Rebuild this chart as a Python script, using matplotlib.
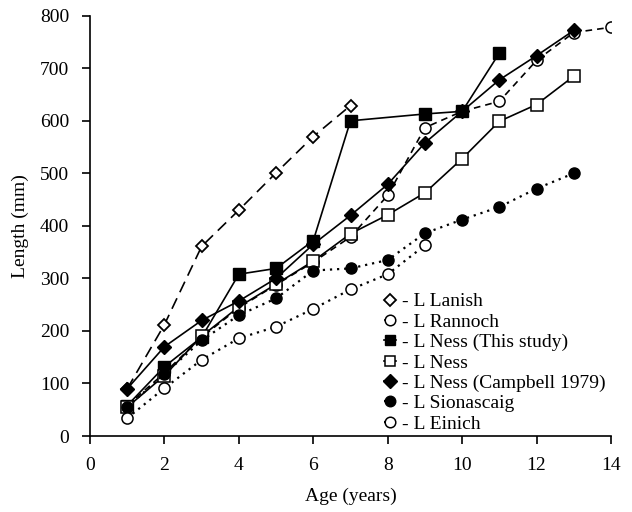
import matplotlib.pyplot as plt

plt.rcParams['font.family'] = ['Liberation Serif', 'DejaVu Serif']

# data (age in years, length in mm)
lanish_age = [1, 2, 3, 4, 5, 6, 7]
lanish_len = [90, 212, 361, 430, 501, 570, 629]

rannoch_age = [1, 2, 3, 4, 5, 6, 7, 8, 9, 10, 11, 12, 13, 14]
rannoch_len = [58, 120, 188, 244, 288, 331, 379, 458, 587, 618, 637, 715, 768, 778]

ness_this_age = [1, 2, 3, 4, 5, 6, 7, 9, 10, 11]
ness_this_len = [58, 132, 188, 308, 319, 372, 600, 613, 618, 729]

ness_age = [1, 2, 3, 4, 5, 6, 7, 8, 9, 10, 11, 12, 13]
ness_len = [55, 115, 190, 246, 289, 333, 385, 421, 463, 528, 599, 631, 685]

campbell_age = [1, 2, 3, 4, 5, 6, 7, 8, 9, 10, 11, 12, 13]
campbell_len = [90, 170, 220, 257, 300, 365, 420, 479, 558, 618, 678, 724, 772]

siona_age = [1, 2, 3, 4, 5, 6, 7, 8, 9, 10, 11, 12, 13]
siona_len = [55, 118, 182, 230, 262, 315, 319, 335, 386, 412, 436, 471, 500]

einich_age = [1, 2, 3, 4, 5, 6, 7, 8, 9]
einich_len = [34, 91, 145, 186, 208, 242, 279, 308, 363]

fig = plt.figure(figsize=(6.32, 5.12), dpi=100)
ax = fig.add_axes([0.1424, 0.1484, 0.8244, 0.8209])

lw = 1.2
ax.plot(lanish_age, lanish_len, color='black', lw=lw, dashes=(7, 4),
        marker='D', ms=6, mfc='white', mec='black', mew=1.3, label='- L Lanish')
ax.plot(rannoch_age, rannoch_len, color='black', lw=lw, dashes=(4, 3),
        marker='o', ms=8, mfc='white', mec='black', mew=1.1, label='- L Rannoch')
ax.plot(ness_this_age, ness_this_len, color='black', lw=lw, ls='-',
        marker='s', ms=8, mfc='black', mec='black', label='- L Ness (This study)')
ax.plot(ness_age, ness_len, color='black', lw=lw, ls='-',
        marker='s', ms=8, mfc='white', mec='black', mew=1.1, label='- L Ness')
ax.plot(campbell_age, campbell_len, color='black', lw=lw, ls='-',
        marker='D', ms=7, mfc='black', mec='black', label='- L Ness (Campbell 1979)')
ax.plot(siona_age, siona_len, color='black', lw=1.6, ls=(0, (1, 2.2)),
        marker='o', ms=8, mfc='black', mec='black', label='- L Sionascaig')
ax.plot(einich_age, einich_len, color='black', lw=1.6, ls=(0, (1, 2.2)),
        marker='o', ms=8, mfc='white', mec='black', mew=1.1, label='- L Einich')

ax.set_xlim(0, 14)
ax.set_ylim(0, 800)
ax.set_xticks(range(0, 15, 2))
ax.set_yticks(range(0, 801, 100))
ax.spines['top'].set_visible(False)
ax.spines['right'].set_visible(False)
ax.spines['left'].set_linewidth(1.2)
ax.spines['bottom'].set_linewidth(1.2)
ax.tick_params(direction='out', length=6, width=1.2, labelsize=14, pad=9)

ax.set_xlabel('Age (years)', fontsize=14, labelpad=10)
ax.set_ylabel('Length (mm)', fontsize=14, labelpad=8)

ax.legend(loc='lower right', bbox_to_anchor=(1.008, -0.015), frameon=False,
          fontsize=14, handlelength=0.6, handletextpad=0.3, labelspacing=0.14,
          borderpad=0, markerscale=0.95)

fig.savefig('out.png', dpi=100)
